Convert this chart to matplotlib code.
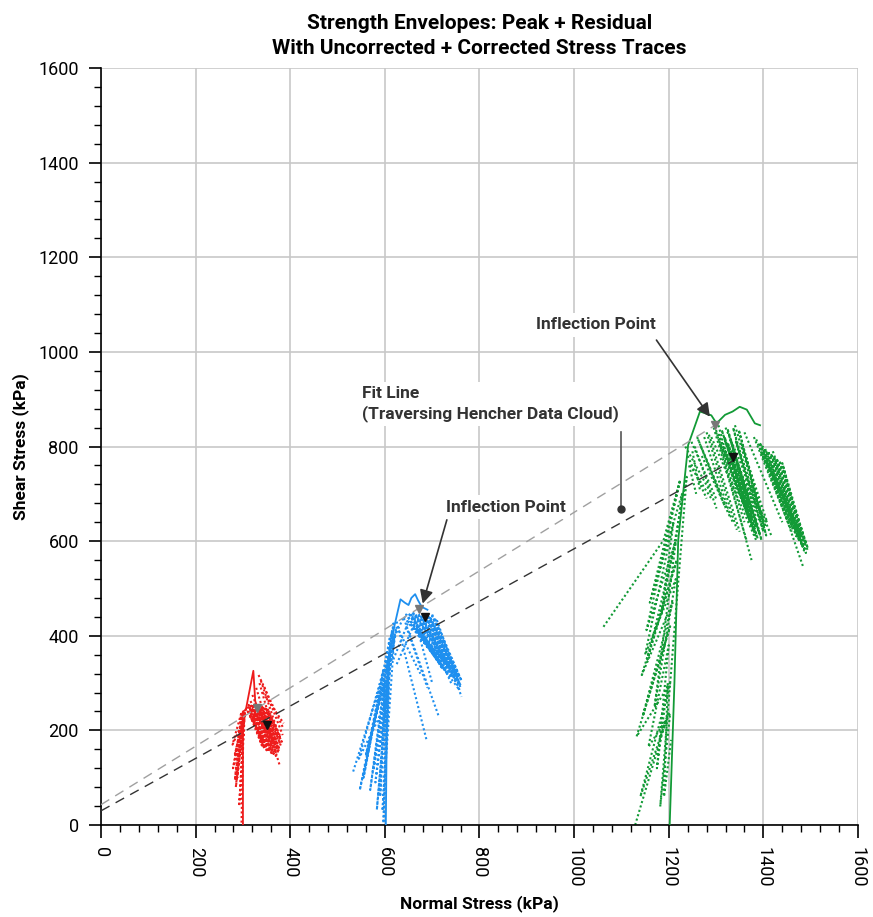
import matplotlib.pyplot as plt
from matplotlib.ticker import MultipleLocator

plt.rcParams['font.family'] = ['Roboto', 'DejaVu Sans']

RED = '#ee1c1c'
BLUE = '#1e8fef'
GREEN = '#129a36'
INK = '#333333'

# uncorrected stress traces (solid), normal vs shear in kPa
red_trace_x = [300, 300, 306, 322, 326, 330, 345, 334, 358, 338, 368]
red_trace_y = [0, 240, 243, 326, 262, 250, 222, 244, 192, 236, 172]
blue_trace_x = [602, 604, 609, 620, 633, 642, 650, 656, 664, 670, 678, 690]
blue_trace_y = [0, 200, 352, 420, 477, 470, 465, 480, 488, 475, 461, 455]
green_trace_x = [1202, 1212, 1220, 1241, 1266, 1290, 1301, 1319, 1335, 1350, 1365, 1382, 1393]
green_trace_y = [0, 300, 602, 803, 874, 866, 849, 867, 874, 884, 878, 849, 845]

# corrected stress traces (dotted): loading legs, dense post-peak bands, outer post-peak legs
red_rise = [(297, 5), (301, 200), (292, 40), (304, 235), (285, 80), (300, 240),
            (279, 120), (306, 245), (283, 150), (298, 210), (288, 100), (303, 225),
            (278, 170), (296, 235), (283, 95), (301, 238)]
red_band = [(308, 250), (340, 168), (312, 254), (345, 162), (316, 256), (350, 158),
            (320, 255), (355, 155), (324, 258), (360, 152), (328, 256), (365, 150),
            (332, 255), (370, 152), (336, 254), (374, 155), (340, 252), (377, 160),
            (344, 250), (380, 168), (348, 248), (382, 176), (352, 246), (380, 185),
            (310, 240), (342, 180), (315, 230), (350, 170), (318, 248), (372, 165)]
red_legs = [(333, 317, 385, 205), (338, 305, 381, 175), (328, 290, 378, 125),
            (345, 292, 384, 190), (320, 275, 372, 140), (335, 300, 376, 155),
            (312, 250, 366, 150), (316, 262, 360, 170), (342, 280, 386, 215)]

blue_rise = [(533, 113), (607, 349), (547, 74), (611, 398), (569, 74), (618, 426),
             (583, 32), (612, 380), (597, 4), (606, 330), (576, 116), (625, 419),
             (560, 150), (600, 300), (590, 60), (604, 260), (545, 140), (597, 328),
             (555, 100), (615, 410), (580, 90), (620, 400), (595, 30), (608, 300)]
blue_band = [(640, 440), (718, 340), (645, 445), (722, 330), (650, 448), (728, 325),
             (655, 446), (733, 318), (660, 448), (738, 330), (665, 445), (742, 312),
             (670, 447), (746, 320), (675, 444), (750, 305), (680, 446), (752, 318),
             (685, 442), (755, 300), (690, 444), (757, 312), (695, 440), (760, 295),
             (700, 442), (762, 305), (705, 438), (758, 285), (650, 430), (725, 345),
             (658, 425), (735, 335)]
blue_legs = [(625, 430, 688, 180), (640, 437, 713, 232), (700, 445, 762, 271),
             (690, 440, 752, 296), (660, 447, 700, 300), (645, 420, 690, 290),
             (680, 437, 740, 300), (710, 433, 760, 290), (630, 410, 675, 320),
             (612, 380, 640, 440), (618, 350, 650, 430), (625, 340, 660, 420)]

green_rise = [(1129, 0), (1199, 236), (1140, 60), (1203, 300), (1132, 187), (1203, 420),
              (1145, 230), (1208, 470), (1143, 317), (1217, 560), (1155, 350), (1215, 600),
              (1153, 412), (1224, 729), (1160, 470), (1228, 700), (1170, 250), (1215, 520),
              (1150, 360), (1210, 640), (1185, 450), (1238, 736), (1182, 39), (1203, 236),
              (1157, 165), (1200, 380), (1175, 120), (1198, 300), (1190, 60), (1205, 180)]
green_band = [(1300, 830), (1372, 640), (1306, 825), (1378, 625), (1312, 835), (1383, 612),
              (1318, 820), (1388, 605), (1324, 838), (1392, 615), (1330, 815), (1396, 602),
              (1336, 840), (1400, 620), (1342, 810), (1404, 630), (1348, 835), (1406, 612),
              (1354, 805), (1408, 640), (1310, 800), (1366, 660), (1320, 790), (1375, 650),
              (1326, 805), (1385, 628), (1334, 795), (1394, 640)]
green_band2 = [(1385, 815), (1452, 640), (1392, 808), (1462, 625), (1398, 800), (1470, 610),
               (1404, 795), (1476, 600), (1410, 790), (1482, 590), (1416, 785), (1486, 580),
               (1422, 780), (1490, 575), (1428, 775), (1494, 585), (1434, 770), (1480, 615),
               (1440, 765), (1488, 600), (1395, 790), (1465, 640)]
green_legs = [(1062, 419, 1189, 602), (1189, 602, 1224, 729),
              (1255, 800, 1301, 669), (1250, 790, 1266, 708), (1280, 830, 1344, 624),
              (1300, 835, 1375, 560), (1290, 820, 1386, 599), (1320, 840, 1418, 609),
              (1340, 845, 1400, 640), (1310, 800, 1360, 640), (1393, 807, 1495, 578),
              (1400, 790, 1484, 546), (1420, 790, 1490, 590), (1380, 820, 1460, 620),
              (1360, 830, 1440, 640), (1270, 780, 1330, 650), (1245, 760, 1290, 690),
              (1260, 820, 1310, 700), (1235, 800, 1290, 700), (1240, 780, 1280, 690),
              (1248, 810, 1300, 690), (1262, 815, 1320, 670), (1268, 800, 1325, 665),
              (1275, 820, 1335, 640), (1285, 825, 1350, 620), (1295, 840, 1365, 600),
              (1305, 845, 1345, 700), (1243, 760, 1258, 700)]

# strength envelopes
peak_fit_x = [0, 1298]
peak_fit_y = [43, 845]
resid_fit_x = [0, 1336]
resid_fit_y = [30, 770]
peak_pts_x = [330, 672, 1298]
peak_pts_y = [247, 456, 845]
resid_pts_x = [351, 685, 1336]
resid_pts_y = [211, 440, 778]

fig = plt.figure(figsize=(8.73, 9.17), dpi=100)
ax = fig.add_axes([0.1157, 0.1003, 0.8671, 0.8255])

dot_style = dict(lw=1.5, ls=(0, (1, 1.2)), zorder=2)
for col, paths, legs in [(RED, [red_rise, red_band], red_legs),
                         (BLUE, [blue_rise, blue_band], blue_legs),
                         (GREEN, [green_rise, green_band, green_band2], green_legs)]:
    for path in paths:
        ax.plot([p[0] for p in path], [p[1] for p in path], color=col, **dot_style)
    for x0, y0, x1, y1 in legs:
        ax.plot([x0, x1], [y0, y1], color=col, **dot_style)

ax.plot(red_trace_x, red_trace_y, color=RED, lw=1.3, zorder=3)
ax.plot(blue_trace_x, blue_trace_y, color=BLUE, lw=1.3, zorder=3)
ax.plot(green_trace_x, green_trace_y, color=GREEN, lw=1.3, zorder=3)

ax.plot(peak_fit_x, peak_fit_y, color='#a0a0a0', lw=1.0, ls=(0, (7, 5)), zorder=4)
ax.plot(resid_fit_x, resid_fit_y, color='#333333', lw=1.0, ls=(0, (7, 5)), zorder=4)
ax.plot(peak_pts_x, peak_pts_y, 'v', color='#777777', ms=6, zorder=5)
ax.plot(resid_pts_x, resid_pts_y, 'v', color='#111111', ms=6, zorder=5)

box = dict(boxstyle='square,pad=0.25', fc='white', ec='none')
ax.text(1046, 1057, 'Inflection Point', ha='center', va='center', fontsize=12.5,
        fontweight='bold', color=INK, bbox=box, zorder=6)
ax.annotate('', xy=(1287, 863), xytext=(1174, 1025),
            arrowprops=dict(arrowstyle='-|>', color=INK, lw=1.2, mutation_scale=20,
                            shrinkA=0, shrinkB=0), zorder=6)
ax.text(856, 672, 'Inflection Point', ha='center', va='center', fontsize=12.5,
        fontweight='bold', color=INK, bbox=box, zorder=6)
ax.annotate('', xy=(680, 468), xytext=(731, 645),
            arrowprops=dict(arrowstyle='-|>', color=INK, lw=1.2, mutation_scale=20,
                            shrinkA=0, shrinkB=0), zorder=6)
ax.text(552, 890, 'Fit Line\n(Traversing Hencher Data Cloud)', ha='left', va='center',
        fontsize=12.5, fontweight='bold', color=INK, linespacing=1.3, bbox=box, zorder=6)
ax.plot([1099, 1099], [831, 668], color='#555555', lw=1.2, zorder=6)
ax.plot([1099], [668], 'o', color=INK, ms=5, zorder=6)

ax.set_xlim(0, 1600)
ax.set_ylim(0, 1600)
ax.xaxis.set_major_locator(MultipleLocator(200))
ax.yaxis.set_major_locator(MultipleLocator(200))
ax.xaxis.set_minor_locator(MultipleLocator(40))
ax.yaxis.set_minor_locator(MultipleLocator(40))
ax.grid(True, which='major', color='#c8c8c8', lw=1.2, zorder=0)
ax.set_axisbelow(True)
for s in ['top', 'right']:
    ax.spines[s].set_visible(False)
for s in ['left', 'bottom']:
    ax.spines[s].set_linewidth(1.2)
ax.tick_params(which='major', direction='out', length=9, width=1.2, labelsize=13, pad=7)
ax.tick_params(which='minor', direction='out', length=5, width=1.0)
plt.setp(ax.get_xticklabels(), rotation=-90)

ax.set_xlabel('Normal Stress (kPa)', fontsize=12.5, fontweight='bold', labelpad=5)
ax.set_ylabel('Shear Stress (kPa)', fontsize=12.5, fontweight='bold', labelpad=7)
ax.set_title('Strength Envelopes: Peak + Residual\nWith Uncorrected + Corrected Stress Traces',
             fontsize=15, fontweight='bold', pad=10, linespacing=1.4)

fig.savefig('out.png', dpi=100)
